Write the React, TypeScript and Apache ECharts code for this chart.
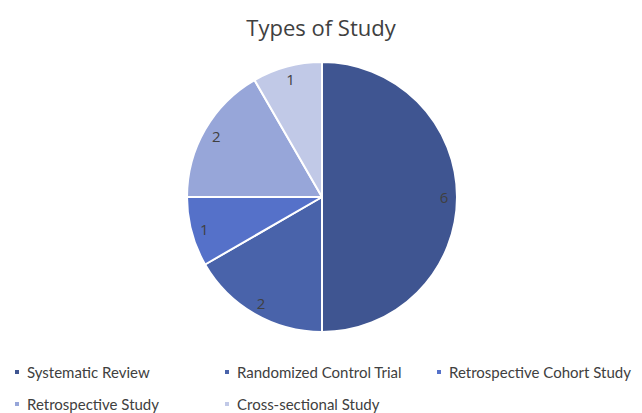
import React, { useEffect, useRef } from "react";
import * as echarts from "echarts";

const categories = [
  "Systematic Review",
  "Randomized Control Trial",
  "Retrospective Cohort Study",
  "Retrospective Study",
  "Cross-sectional Study",
];
const values = [6, 2, 1, 2, 1];
const colors = ["#3F5591", "#4963AA", "#5571C9", "#97A6D9", "#C1C9E7"];
// legend slots: [left, top] per category
const legendSlots = [
  [13, 364],
  [223, 364],
  [435, 364],
  [13, 396],
  [223, 396],
];

export default function App() {
  const ref = useRef<HTMLDivElement>(null);
  useEffect(() => {
    document.body.style.margin = "0";
    const chart = echarts.init(ref.current!, null, { renderer: "svg" });
    const data = categories.map((name, i) => ({
      name,
      value: values[i],
      itemStyle: { color: colors[i] },
    }));
    const textStyle = {
      fontFamily: "Lato",
      fontSize: 15,
      color: "#404040",
      lineHeight: 16,
      padding: [0, 0, 0, 2],
    };
    chart.setOption({
      animation: false,
      title: {
        text: "Types of Study",
        left: "center",
        top: 11,
        textStyle: {
          fontFamily: "Open Sans",
          fontSize: 22,
          fontWeight: "normal",
          color: "#404040",
        },
      },
      legend: categories.map((name, i) => ({
        orient: "horizontal",
        icon: "rect",
        itemWidth: 6,
        itemHeight: 6,
        padding: 0,
        left: legendSlots[i][0],
        top: legendSlots[i][1],
        textStyle,
        selectedMode: false,
        data: [name],
      })),
      series: [
        {
          type: "pie",
          center: [322, 197],
          radius: [0, 135],
          startAngle: 90,
          clockwise: true,
          itemStyle: { borderColor: "#ffffff", borderWidth: 2 },
          label: { show: false },
          labelLine: { show: false },
          emphasis: { disabled: true },
          data,
        },
        {
          type: "pie",
          center: [322, 197],
          radius: [103, 135],
          startAngle: 90,
          clockwise: true,
          silent: true,
          legendHoverLink: false,
          itemStyle: { color: "transparent", borderWidth: 0 },
          label: {
            show: true,
            position: "inside",
            formatter: "{c}",
            fontFamily: "Open Sans",
            fontSize: 15,
            color: "#404040",
          },
          labelLine: { show: false },
          emphasis: { disabled: true },
          data: categories.map((name, i) => ({ name: name + " ", value: values[i] })),
        },
      ],
    });
    return () => chart.dispose();
  }, []);
  return <div ref={ref} style={{ width: 642, height: 413 }} />;
}
